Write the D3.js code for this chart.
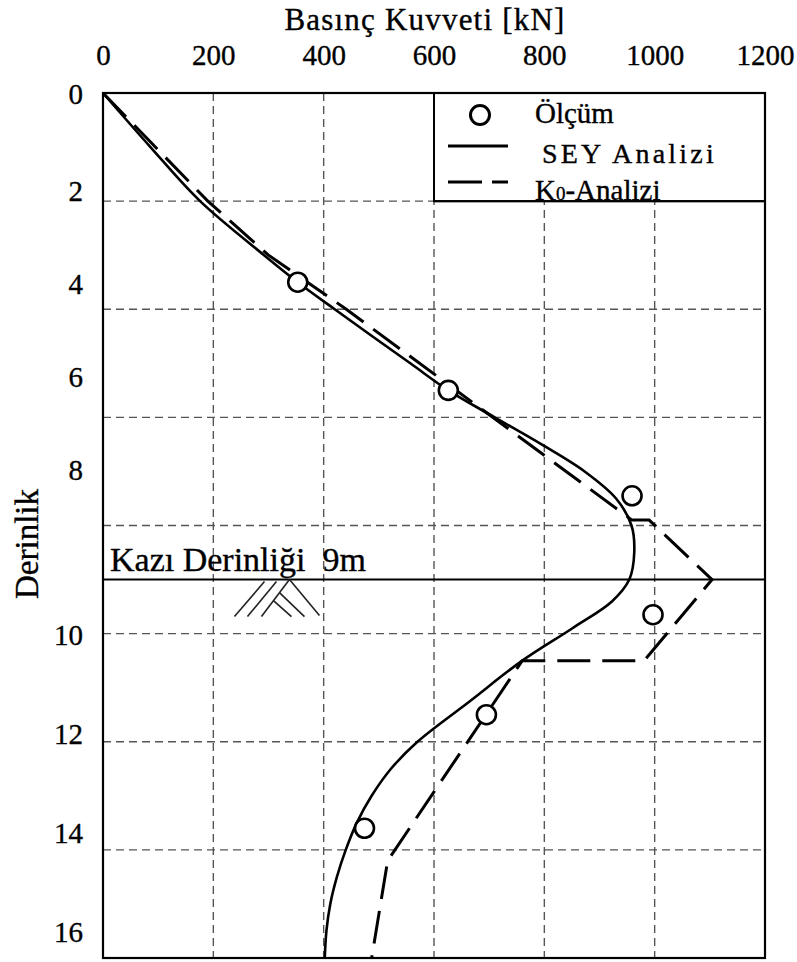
<!DOCTYPE html>
<html>
<head>
<meta charset="utf-8">
<script src="https://cdn.jsdelivr.net/npm/d3@7"></script>
<style>
  body { margin: 0; background: #fff; }
  text { font-family: "Liberation Serif", "Times New Roman", serif; fill: #000; stroke: #000; stroke-width: 0.35px; }
</style>
</head>
<body>
<svg id="chart" width="797" height="962"></svg>
<script>
// Axis ticks
const forceTicks = [0, 200, 400, 600, 800, 1000, 1200];
const depthTicks = [0, 2, 4, 6, 8, 10, 12, 14, 16];

// Measured forces (Ölçüm)
const measuredDepth = [3.5, 5.5, 7.45, 9.65, 11.5, 13.6];
const measuredForce = [353, 626, 959, 997, 695, 474];

// Finite element analysis (SEY Analizi)
const seyDepth = [0, 1, 2, 3, 3.5, 4, 5, 5.5, 6, 6.5, 7, 7.5, 8, 8.5, 9, 9.4, 9.9, 10.5, 11.25, 12, 12.5, 13, 13.5, 14, 14.5, 15, 15.5, 16];
const seyForce = [0, 86, 176, 292, 353, 420, 557, 626, 710, 795, 873, 930, 958, 963, 954, 923, 851, 760, 665, 570, 522, 487, 460, 440, 424, 412, 405, 402];

// K0 analysis (K0-Analizi)
const k0Depth = [0, 2, 3, 4, 7.9, 7.9, 9, 10.5, 10.5, 14.2, 16];
const k0Force = [0, 190, 300, 441, 959, 990, 1104, 981, 760, 516, 487];

// Excavation depth
const excavationDepth = 9;

const legendLabels = ["Ölçüm", "SEY Analizi", "K0-Analizi"];

const svg = d3.select("#chart");
const plot = { left: 103, right: 765, top: 93, bottom: 958 };

const x = d3.scaleLinear().domain([0, 1200]).range([plot.left, plot.right]);
const y = d3.scaleLinear().domain([0, 16]).range([plot.top, plot.bottom]);
// depth labels are spaced on their own in this figure
const yLabel = d3.scaleLinear().domain([0, 2, 8, 10, 16]).range([94, 191, 470, 635, 932]);

// grid
const grid = svg.append("g").attr("stroke", "#555").attr("stroke-width", 1.4)
  .attr("stroke-dasharray", "8,5").attr("fill", "none");
grid.selectAll("line.v").data(forceTicks.slice(1, -1)).join("line")
  .attr("x1", d => x(d)).attr("x2", d => x(d))
  .attr("y1", plot.top).attr("y2", plot.bottom);
grid.selectAll("line.h").data(depthTicks.slice(1, -1)).join("line")
  .attr("x1", plot.left).attr("x2", plot.right)
  .attr("y1", d => y(d)).attr("y2", d => y(d));

// legend box (covers grid)
const lg = svg.append("g");
lg.append("rect")
  .attr("x", x(600)).attr("y", y(0))
  .attr("width", x(1200) - x(600)).attr("height", y(2) - y(0))
  .attr("fill", "#fff").attr("stroke", "#000").attr("stroke-width", 2);

// excavation line
svg.append("line")
  .attr("x1", plot.left).attr("x2", plot.right)
  .attr("y1", y(excavationDepth)).attr("y2", y(excavationDepth))
  .attr("stroke", "#000").attr("stroke-width", 2);
svg.append("text")
  .attr("x", plot.left + 7).attr("y", y(excavationDepth) - 9)
  .attr("font-size", 34).style("white-space", "pre")
  .text("Kazı Derinliği  9m");

// ground hatch symbol below the excavation line
const hx = x(338), hy = y(excavationDepth);
const hatch = [
  [-25, 2, -55, 37], [-13, 2, -42, 37], [0, 0, -28, 37],
  [0, 0, 30, 36], [-10, 13, 15, 37], [-16, 21, 2, 37]
];
svg.append("g").attr("stroke", "#222").attr("stroke-width", 1.6)
  .selectAll("line").data(hatch).join("line")
  .attr("x1", d => hx + d[0]).attr("y1", d => hy + d[1])
  .attr("x2", d => hx + d[2]).attr("y2", d => hy + d[3]);

// frame
svg.append("rect")
  .attr("x", plot.left).attr("y", plot.top)
  .attr("width", plot.right - plot.left).attr("height", plot.bottom - plot.top)
  .attr("fill", "none").attr("stroke", "#000").attr("stroke-width", 2.2);

// curves
const sey = seyForce.map((f, i) => [f, seyDepth[i]]);
const k0 = k0Force.map((f, i) => [f, k0Depth[i]]);

svg.append("path").datum(k0)
  .attr("d", d3.line().x(d => x(d[0])).y(d => y(d[1])).curve(d3.curveLinear))
  .attr("fill", "none").attr("stroke", "#000").attr("stroke-width", 3)
  .attr("stroke-dasharray", "33,12");

svg.append("path").datum(sey)
  .attr("d", d3.line().x(d => x(d[0])).y(d => y(d[1])).curve(d3.curveCatmullRom.alpha(0.5)))
  .attr("fill", "none").attr("stroke", "#000").attr("stroke-width", 2.6);

// measured points
svg.append("g").selectAll("circle")
  .data(measuredForce.map((f, i) => [f, measuredDepth[i]])).join("circle")
  .attr("cx", d => x(d[0])).attr("cy", d => y(d[1])).attr("r", 9.5)
  .attr("fill", "#fff").attr("stroke", "#000").attr("stroke-width", 2.6);

// top axis labels
const xAxis = d3.axisTop(x).tickValues(forceTicks).tickSize(0).tickPadding(0).tickFormat(d3.format("d"));
const gx = svg.append("g").attr("transform", `translate(0,${plot.top - 28})`).call(xAxis);
gx.select(".domain").remove();
gx.selectAll("text").attr("font-size", 29).attr("font-family", "Liberation Serif").attr("fill", "#000");

// left axis labels
const yAxis = d3.axisLeft(yLabel).tickValues(depthTicks).tickSize(0).tickPadding(0).tickFormat(d3.format("d"));
const gy = svg.append("g").attr("transform", "translate(83,0)").call(yAxis);
gy.select(".domain").remove();
gy.selectAll("text").attr("font-size", 29).attr("font-family", "Liberation Serif").attr("fill", "#000");

// axis titles
svg.append("text").attr("x", 425).attr("y", 30).attr("text-anchor", "middle")
  .attr("font-size", 31).attr("letter-spacing", 1.2).text("Basınç Kuvveti [kN]");
svg.append("text").attr("transform", "translate(38,544) rotate(-90)")
  .attr("text-anchor", "middle").attr("font-size", 33).text("Derinlik");

// legend entries
const lx = x(600);
lg.append("circle").attr("cx", lx + 46).attr("cy", 115).attr("r", 9.5)
  .attr("fill", "#fff").attr("stroke", "#000").attr("stroke-width", 3);
lg.append("line").attr("x1", lx + 14).attr("x2", lx + 74).attr("y1", 146).attr("y2", 146)
  .attr("stroke", "#000").attr("stroke-width", 3);
lg.append("line").attr("x1", lx + 14).attr("x2", lx + 74).attr("y1", 182).attr("y2", 182)
  .attr("stroke", "#000").attr("stroke-width", 3).attr("stroke-dasharray", "34,10");
lg.append("text").attr("x", lx + 101).attr("y", 123).attr("font-size", 29).text(legendLabels[0]);
lg.append("text").attr("x", lx + 108).attr("y", 163).attr("font-size", 28)
  .attr("letter-spacing", 3.2).text(legendLabels[1]);
const k0t = lg.append("text").attr("x", lx + 101).attr("y", 200).attr("font-size", 29);
k0t.append("tspan").text(legendLabels[2].charAt(0));
k0t.append("tspan").attr("font-size", 19).text(legendLabels[2].charAt(1));
k0t.append("tspan").text(legendLabels[2].slice(2));
// legend bottom edge drawn over the last label
lg.append("line").attr("x1", lx).attr("x2", x(1200)).attr("y1", y(2)).attr("y2", y(2))
  .attr("stroke", "#000").attr("stroke-width", 2);
</script>
</body>
</html>
